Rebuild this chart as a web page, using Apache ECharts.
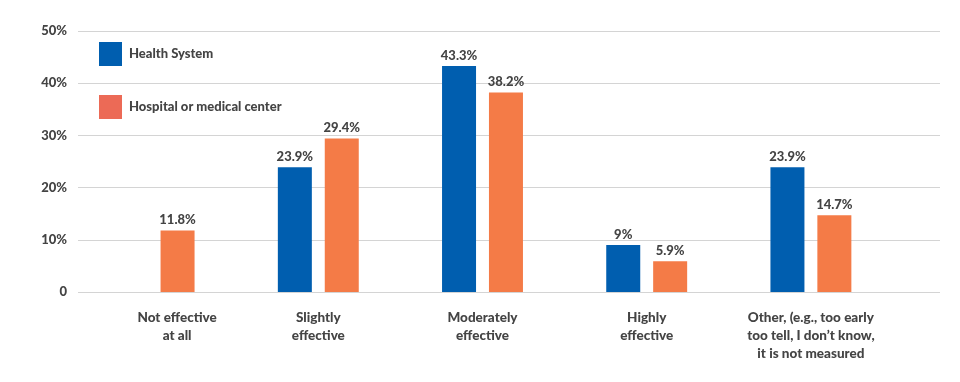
<!DOCTYPE html>
<html><head><meta charset="utf-8">
<script src="https://cdn.jsdelivr.net/npm/echarts@6/dist/echarts.min.js"></script>
<style>html,body{margin:0;padding:0;background:#fff}#c{width:960px;height:382px}</style>
</head><body><div id="c"></div>
<script>
var categories = ['Not effective\nat all', 'Slightly\neffective', 'Moderately\neffective', 'Highly\neffective', 'Other, (e.g., too early\ntoo tell, I don\u2019t know,\nit is not measured'];
var healthSystem = [null, 23.9, 43.3, 9, 23.9];
var hospital = [11.8, 29.4, 38.2, 5.9, 14.7];
var yTicks = [0, 10, 20, 30, 40, 50];

var txt = '#444444';
var font = 'Lato';
var catData = categories.map(function (c, i) {
  return i === 0 ? {value: c, textStyle: {padding: [0, 0, 0, 46]}} : c;
});
var chart = echarts.init(document.getElementById('c'), null, {renderer: 'canvas'});
chart.setOption({
  animation: false,
  textStyle: {fontFamily: font},
  legend: {
    orient: 'vertical', left: 99, top: 42, padding: 0, icon: 'rect',
    itemWidth: 23, itemHeight: 24, itemGap: 29,
    textStyle: {fontFamily: font, fontWeight: 900, fontSize: 13, color: txt, padding: [0, 0, 0, 2]},
    data: [
      {name: 'Health System', itemStyle: {color: '#005eaf'}},
      {name: 'Hospital or medical center', itemStyle: {color: '#ec6a56'}}
    ]
  },
  grid: [
    {left: 78, right: 20, top: 31, bottom: 90, containLabel: false},
    {left: 72, right: 67, top: 31, bottom: 90, containLabel: false}
  ],
  xAxis: [
    {gridIndex: 0, type: 'value', show: false, min: 0, max: 1},
    {gridIndex: 1, type: 'category', data: catData,
     axisLine: {show: false}, axisTick: {show: false},
     axisLabel: {interval: 0, fontFamily: font, fontWeight: 900, fontSize: 13.5, color: txt, lineHeight: 18, margin: 17}}
  ],
  yAxis: [
    {gridIndex: 0, type: 'value', min: 0, max: 50, interval: 10,
     axisLine: {show: false}, axisTick: {show: false},
     splitLine: {lineStyle: {color: '#d4d4d4', width: 1}},
     axisLabel: {margin: 11, fontFamily: font, fontWeight: 900, fontSize: 13, color: txt,
       formatter: function (v) { return yTicks.indexOf(v) >= 0 ? (v === 0 ? '0' : v + '%') : ''; }}},
    {gridIndex: 1, type: 'value', min: 0, max: 50, interval: 10, show: false, splitLine: {show: false}}
  ],
  series: [
    {name: 'Health System', type: 'bar', xAxisIndex: 1, yAxisIndex: 1, data: healthSystem,
     barWidth: 34, barGap: '38%', itemStyle: {color: '#005eaf'},
     label: {show: true, position: 'top', distance: 4, fontFamily: font, fontWeight: 900, fontSize: 13, color: txt,
       formatter: function (p) { return p.value == null ? '' : p.value + '%'; }}},
    {name: 'Hospital or medical center', type: 'bar', xAxisIndex: 1, yAxisIndex: 1, data: hospital,
     barWidth: 34, barGap: '38%', itemStyle: {color: '#f47b47'},
     label: {show: true, position: 'top', distance: 4, fontFamily: font, fontWeight: 900, fontSize: 13, color: txt,
       formatter: function (p) { return p.value + '%'; }}}
  ]
});
</script></body></html>
